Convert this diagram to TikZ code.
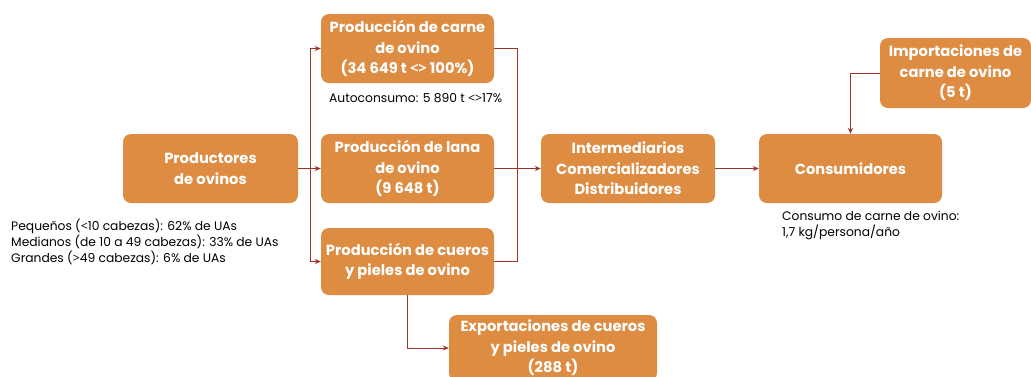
\documentclass[tikz,border=0pt]{standalone}
\usepackage{fontspec}
\setmainfont{Poppins}
\newfontfamily\symf{Open Sans}
\newcommand{\mylt}{{\symf<}}
\newcommand{\mygt}{{\symf>}}
\usetikzlibrary{arrows.meta}
\definecolor{boxc}{HTML}{DD8C42}
\definecolor{linec}{HTML}{9E3426}
\begin{document}
\begin{tikzpicture}[x=1pt,y=-1pt,
 box/.style={fill=boxc, rounded corners=8pt, text=white, font=\fontsize{14.7}{20.5}\selectfont\bfseries, align=center, inner sep=0pt},
 wire/.style={draw=linec, line width=1pt},
 conn/.style={wire, -{Stealth[length=6pt,width=5pt]}},
 note/.style={font=\fontsize{12.3}{16}\selectfont, align=left, anchor=north west, inner sep=0pt}]
\useasboundingbox (0,0) rectangle (1031,376);
\clip (0,0) rectangle (1031,376);
\node[box, minimum width=175pt, minimum height=69pt] (prod) at (210.5,168.5) {Productores\\de ovinos};
\node[box, minimum width=173pt, minimum height=69pt] (carne) at (407.5,48.5) {Producción de carne\\de ovino\\(34 649 t \mylt\mygt\ 100\%)};
\node[box, minimum width=173pt, minimum height=69pt] (lana) at (407.5,168.5) {Producción de lana\\de ovino\\(9 648 t)};
\node[box, minimum width=173pt, minimum height=67pt] (cuer) at (407.5,261.5) {Producción de cueros\\y pieles de ovino};
\node[box, minimum width=174pt, minimum height=69pt] (inter) at (628,168.5) {Intermediarios\\Comercializadores\\Distribuidores};
\node[box, minimum width=183pt, minimum height=69pt] (cons) at (850.5,168.5) {Consumidores};
\node[box, minimum width=151pt, minimum height=70pt] (imp) at (955.5,73) {Importaciones de\\carne de ovino\\(5 t)};
\node[box, minimum width=208pt, minimum height=66pt] (exp) at (553,348) {Exportaciones de cueros\\y pieles de ovino\\(288 t)};
\node[note] (n1) at (11,219) {Pequeños (\mylt 10 cabezas): 62\% de UAs\\Medianos (de 10 a 49 cabezas): 33\% de UAs\\Grandes (\mygt 49 cabezas): 6\% de UAs};
\node[note, anchor=west] (n2) at (329,98) {Autoconsumo: 5 890 t \mylt\mygt 17\%};
\node[note] (n3) at (782,211) {Consumo de carne de ovino:\\1,7 kg/persona/año};
\coordinate (sL) at (310,168.5);
\coordinate (sR) at (517,168.5);
\draw[wire] (prod.east) -- (sL);
\draw[conn] (sL) |- (carne.west);
\draw[conn] (sL) -- (lana.west);
\draw[conn] (sL) |- (cuer.west);
\draw[wire] (carne.east) -| (sR);
\draw[wire] (cuer.east) -| (sR);
\draw[conn] (lana.east) -- (inter.west);
\draw[conn] (inter.east) -- (cons.west);
\draw[conn] (imp.west) -| (cons.north);
\draw[conn] (cuer.south) |- (exp.west);
\end{tikzpicture}
\end{document}
